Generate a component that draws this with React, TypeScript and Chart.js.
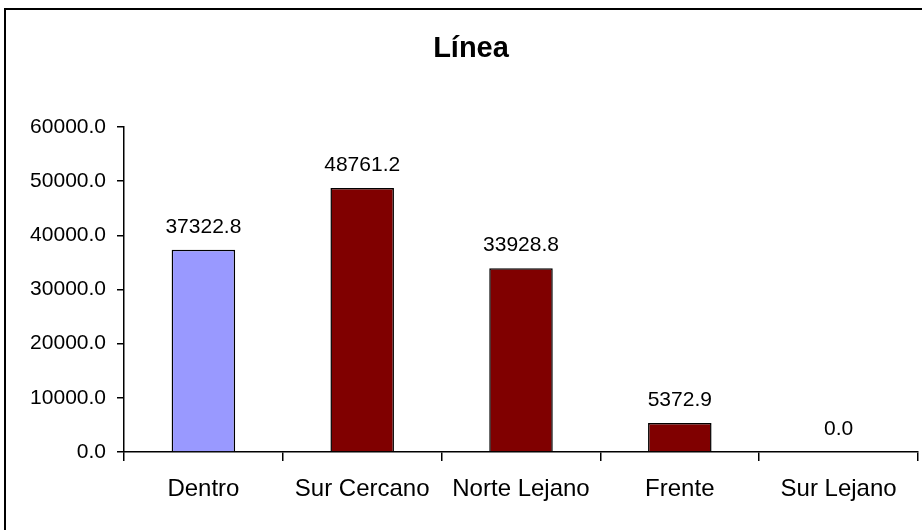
import React, { useEffect, useRef } from "react";
import { Chart, registerables } from "chart.js";

Chart.register(...registerables);

const categories = ["Dentro", "Sur Cercano", "Norte Lejano", "Frente", "Sur Lejano"];
const values = [37322.8, 48761.2, 33928.8, 5372.9, 0.0];
const barColors = ["#9999FF", "#800000", "#800000", "#800000", "#800000"];
const chartTitle = "Línea";
const yMin = 0;
const yMax = 60000;
const yStep = 10000;

const FONT = "'Liberation Sans', Arial, sans-serif";

const framePlugin = {
  id: "frame",
  beforeDraw(chart: any) {
    const ctx = chart.ctx;
    ctx.save();
    ctx.fillStyle = "#ffffff";
    ctx.fillRect(0, 0, chart.width, chart.height);
    ctx.fillStyle = "#000000";
    ctx.fillRect(4, 8, chart.width - 4, 2);
    ctx.fillRect(4, 8, 2, chart.height - 8);
    ctx.restore();
  },
  afterDraw(chart: any) {
    const ctx = chart.ctx;
    ctx.save();
    ctx.fillStyle = "#000000";
    ctx.font = `bold 29px ${FONT}`;
    ctx.textAlign = "center";
    ctx.textBaseline = "alphabetic";
    ctx.fillText(chartTitle, 471, 57);
    ctx.restore();
  },
};

const valueLabelPlugin = {
  id: "valueLabels",
  afterDatasetsDraw(chart: any) {
    const ctx = chart.ctx;
    const meta = chart.getDatasetMeta(0);
    ctx.save();
    ctx.fillStyle = "#000000";
    ctx.font = `21px ${FONT}`;
    ctx.textAlign = "center";
    ctx.textBaseline = "alphabetic";
    meta.data.forEach((bar: any, i: number) => {
      const v = chart.data.datasets[0].data[i] as number;
      ctx.fillText(v.toFixed(1), bar.x, bar.y - 17);
    });
    ctx.restore();
  },
};

export default function App() {
  const ref = useRef<HTMLCanvasElement | null>(null);

  useEffect(() => {
    if (!ref.current) return;
    const chart = new Chart(ref.current, {
      type: "bar",
      data: {
        labels: categories,
        datasets: [
          {
            data: values,
            backgroundColor: barColors,
            borderColor: "#000000",
            borderWidth: 1.5,
            barPercentage: 0.4,
            categoryPercentage: 1,
          },
        ],
      },
      options: {
        responsive: false,
        animation: false,
        devicePixelRatio: 1,
        layout: { padding: { top: 127, right: 4, left: 0, bottom: 0 } },
        plugins: {
          legend: { display: false },
          title: { display: false },
          tooltip: { enabled: false },
        },
        scales: {
          x: {
            offset: true,
            grid: {
              offset: true,
              drawOnChartArea: false,
              drawTicks: true,
              tickLength: 9,
              color: "#000000",
              lineWidth: 1.5,
            },
            border: { color: "#000000", width: 1.5 },
            ticks: {
              color: "#000000",
              font: { family: FONT, size: 24 },
              padding: 14,
              maxRotation: 0,
              autoSkip: false,
            },
            afterFit(scale: any) {
              scale.height = 78;
            },
          },
          y: {
            min: yMin,
            max: yMax,
            grid: {
              drawOnChartArea: false,
              drawTicks: true,
              tickLength: 7,
              color: "#000000",
              lineWidth: 1.5,
            },
            border: { color: "#000000", width: 1.5 },
            ticks: {
              stepSize: yStep,
              color: "#000000",
              font: { family: FONT, size: 21 },
              padding: 11,
              callback: (v: any) => Number(v).toFixed(1),
            },
            afterFit(scale: any) {
              scale.width = 124;
            },
          },
        },
      },
      plugins: [framePlugin, valueLabelPlugin],
    });
    return () => chart.destroy();
  }, []);

  return (
    <div style={{ position: "fixed", left: 0, top: 0, width: 922, height: 530, background: "#fff" }}>
      <canvas ref={ref} width={922} height={530} style={{ display: "block", width: 922, height: 530 }} />
    </div>
  );
}
